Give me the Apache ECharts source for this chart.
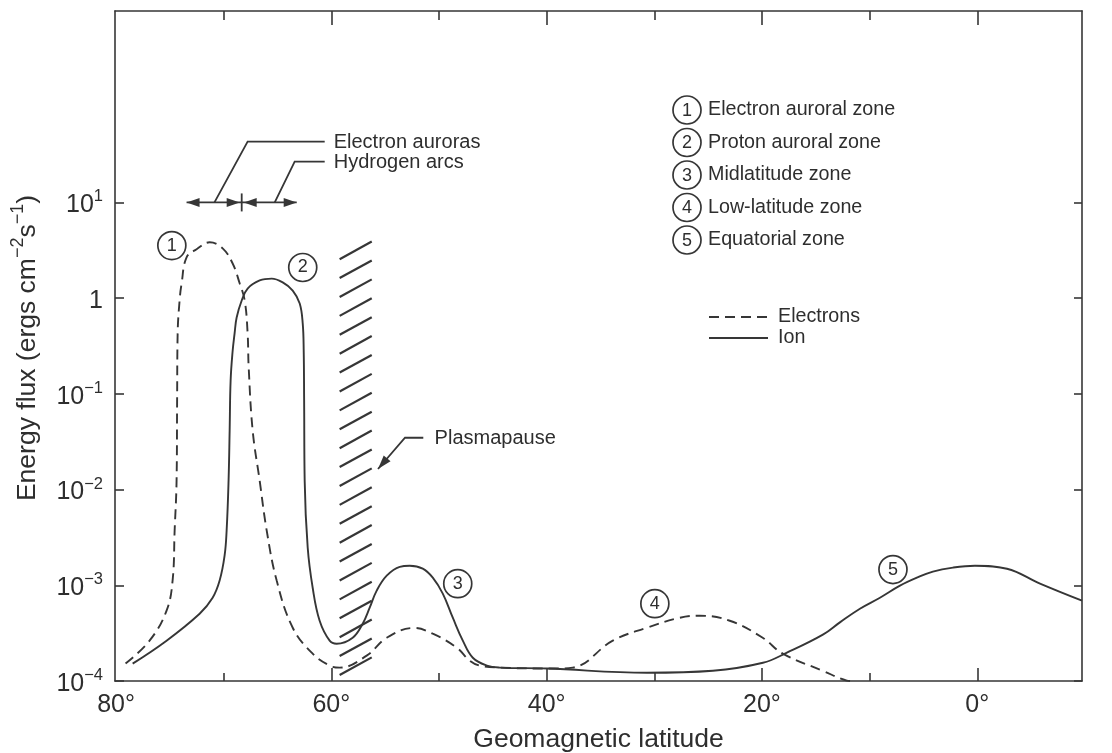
<!DOCTYPE html>
<html><head><meta charset="utf-8">
<script src="https://cdn.jsdelivr.net/npm/echarts@6/dist/echarts.min.js"></script>
<style>html,body{margin:0;padding:0;background:#fff}#c{width:1112px;height:753px}</style>
</head><body><div id="c"></div>
<script>
// ---------------- data ----------------
const electronLat  = [79.12,76.89,75.31,74.75,74.56,74.38,74.33,74.28,74.10,73.91,73.45,72.52,71.31,70.10,69.17,68.52,68.05,67.78,67.68,67.31,66.66,66.01,65.08,63.59,61.74,60.16,59.23,56.72,54.86,52.30,50.58,48.35,47.14,46.21,44.36,39.43,37.58,33.86,30.70,27.63,25.78,22.99,19.93,18.07,14.35,12.12,11.74];
const electronFlux = [1.52e-4,2.64e-4,5.43e-4,1.12e-3,3.74e-3,1.24e-2,0.085,0.428,0.944,1.43,2.67,3.24,3.83,3.31,2.30,1.43,0.944,0.428,0.188,0.0412,0.0124,3.74e-3,1.12e-3,3.6e-4,1.93e-4,1.45e-4,1.38e-4,1.84e-4,2.83e-4,3.58e-4,3.12e-4,2.23e-4,1.63e-4,1.45e-4,1.38e-4,1.35e-4,1.38e-4,2.64e-4,3.6e-4,4.58e-4,4.81e-4,4.26e-4,2.83e-4,1.93e-4,1.28e-4,1.01e-4,1.0e-4];

const ionLat  = [78.46,75.31,72.24,71.03,70.38,69.92,69.73,69.55,69.45,69.36,69.17,68.99,68.80,68.33,67.78,66.66,65.54,64.52,63.59,62.94,62.66,62.57,62.53,62.48,62.20,61.74,61.09,60.16,59.51,58.02,57.09,56.44,55.79,54.86,53.65,52.72,51.51,50.58,49.65,48.72,47.79,46.86,45.56,44.36,39.99,30.70,24.56,19.91,17.68,14.34,12.76,10.90,9.04,7.18,5.61,4.12,2.26,0.21,-2.76,-5.83,-9.73];
const ionFlux = [1.52e-4,2.64e-4,5.05e-4,7.41e-4,1.12e-3,2.04e-3,3.74e-3,0.0124,0.0412,0.137,0.282,0.428,0.627,0.944,1.26,1.53,1.60,1.46,1.20,0.877,0.542,0.282,0.0849,0.0124,2.48e-3,9.48e-4,4.26e-4,2.64e-4,2.45e-4,2.83e-4,3.97e-4,5.83e-4,8.79e-4,1.26e-3,1.56e-3,1.60e-3,1.49e-3,1.2e-3,8.17e-4,4.58e-4,2.64e-4,1.75e-4,1.45e-4,1.38e-4,1.35e-4,1.22e-4,1.28e-4,1.55e-4,1.98e-4,3.05e-4,4.1e-4,5.69e-4,7.41e-4,9.9e-4,1.2e-3,1.39e-3,1.53e-3,1.60e-3,1.49e-3,1.04e-3,6.9e-4];

const zoneNumbers = ['1','2','3','4','5'];
const zoneNames = ['Electron auroral zone','Proton auroral zone','Midlatitude zone','Low-latitude zone','Equatorial zone'];
const zoneMarkLat  = [74.82, 62.66, 48.26, 29.95, 7.83];
const zoneMarkFlux = [3.54, 2.09, 1.04e-3, 6.43e-4, 1.46e-3];

const seriesNames = ['Electrons','Ion'];
const latMajorTicks = [0,20,40,60];
const latMinorTicks = [10,30,50,70];
const latLabels = [80,60,40,20,0];
const fluxTicks = [1e-4,1e-3,1e-2,1e-1,1,10];

const annotAuroraText = ['Electron auroras','Hydrogen arcs'];
const plasmapauseText = 'Plasmapause';

// ---------------- style ----------------
const FONT = '"Liberation Sans", Arial, Helvetica, sans-serif';
const INK = '#2e2e2e';
const LINE = '#363636';

function supLabel(v){
  const e = Math.round(Math.log10(v));
  if (e === 0) return '1';
  return '10{s|' + (e < 0 ? '\u2212' + (-e) : e) + '}';
}

const xCommon = {type:'value', inverse:true, min:-9.73, max:80.1, splitLine:{show:false}};
const yCommon = {type:'log', logBase:10, min:1e-4, max:1e3, splitLine:{show:false}};

const chart = echarts.init(document.getElementById('c'), null, {renderer:'canvas'});
const option = {
  animation:false,
  backgroundColor:'#ffffff',
  textStyle:{fontFamily:FONT, color:INK},
  grid:{left:115, right:30, top:11, bottom:72, containLabel:false, outerBoundsMode:'none'},
  legend:{
    data:seriesNames, orient:'vertical', left:703, top:302,
    itemWidth:59, itemHeight:14, itemGap:1, padding:5,
    itemStyle:{opacity:0, borderWidth:0},
    textStyle:{fontFamily:FONT, fontSize:19.7, color:INK, lineHeight:19, padding:[0,0,0,5]}
  },
  xAxis:[
    Object.assign({}, xCommon, {position:'bottom',
      name:'Geomagnetic latitude', nameLocation:'middle', nameGap:45,
      nameTextStyle:{fontFamily:FONT, fontSize:26.5, color:INK},
      axisLine:{show:true, onZero:false, lineStyle:{color:LINE, width:1.6}},
      axisTick:{show:true, inside:true, length:13, customValues:latMajorTicks, lineStyle:{color:LINE, width:1.6}},
      axisLabel:{show:true, customValues:latLabels, margin:12, fontSize:25, color:INK, fontFamily:FONT, formatter:v=>v+'°'}}),
    Object.assign({}, xCommon, {position:'bottom',
      axisLine:{show:false, onZero:false},
      axisTick:{show:true, inside:true, length:8, customValues:latMinorTicks, lineStyle:{color:LINE, width:1.6}},
      axisLabel:{show:false}}),
    Object.assign({}, xCommon, {position:'top',
      axisLine:{show:true, onZero:false, lineStyle:{color:LINE, width:1.6}},
      axisTick:{show:true, inside:true, length:14, customValues:latMajorTicks, lineStyle:{color:LINE, width:1.6}},
      axisLabel:{show:false}}),
    Object.assign({}, xCommon, {position:'top',
      axisLine:{show:false, onZero:false},
      axisTick:{show:true, inside:true, length:9, customValues:latMinorTicks, lineStyle:{color:LINE, width:1.6}},
      axisLabel:{show:false}})
  ],
  yAxis:[
    Object.assign({}, yCommon, {position:'left',
      name:'Energy flux (ergs cm{s|\u22122}s{s|\u22121})', nameLocation:'middle', nameGap:68,
      nameTextStyle:{fontFamily:FONT, fontSize:26.5, color:INK, lineHeight:36, padding:[0,4,0,0],
        rich:{s:{fontFamily:FONT, fontSize:18, color:INK, verticalAlign:'top', lineHeight:18}}},
      axisLine:{show:true, onZero:false, lineStyle:{color:LINE, width:1.6}},
      axisTick:{show:true, inside:true, length:9, customValues:fluxTicks, lineStyle:{color:LINE, width:1.6}},
      axisLabel:{show:true, customValues:fluxTicks, margin:12, fontSize:25, color:INK, fontFamily:FONT, lineHeight:34,
        padding:[6,0,0,0],
        formatter:supLabel,
        rich:{s:{fontFamily:FONT, fontSize:16.5, color:INK, verticalAlign:'top', lineHeight:16}}}}),
    Object.assign({}, yCommon, {position:'right',
      axisLine:{show:true, onZero:false, lineStyle:{color:LINE, width:1.6}},
      axisTick:{show:true, inside:true, length:8, customValues:fluxTicks, lineStyle:{color:LINE, width:1.6}},
      axisLabel:{show:false}})
  ],
  series:[
    {name:seriesNames[0], type:'line', xAxisIndex:0, yAxisIndex:0, symbol:'none', smooth:0.4,
      data:electronLat.map((x,i)=>[x, electronFlux[i]]),
      lineStyle:{color:LINE, width:1.9, type:[10,6]}, itemStyle:{color:LINE}, z:2},
    {name:seriesNames[1], type:'line', xAxisIndex:0, yAxisIndex:0, symbol:'none', smooth:0.4,
      data:ionLat.map((x,i)=>[x, ionFlux[i]]),
      lineStyle:{color:LINE, width:1.9, type:'solid'}, itemStyle:{color:LINE}, z:2},
    {name:'zones', type:'scatter', xAxisIndex:0, yAxisIndex:0, symbol:'circle', symbolSize:28, z:3,
      data:zoneMarkLat.map((x,i)=>[x, zoneMarkFlux[i]]),
      itemStyle:{color:'#ffffff', borderColor:LINE, borderWidth:1.7, opacity:1},
      label:{show:true, position:'inside', fontFamily:FONT, fontSize:18, color:INK, formatter:p=>zoneNumbers[p.dataIndex]}}
  ]
};
chart.setOption(option);

// ---------------- annotations ----------------
function px(lat, flux){ return chart.convertToPixel({xAxisIndex:0, yAxisIndex:0}, [lat, flux]); }
function arrowHead(tip, from, L, W){
  const dx = tip[0]-from[0], dy = tip[1]-from[1];
  const d = Math.hypot(dx,dy) || 1;
  const ux = dx/d, uy = dy/d, nx = -uy, ny = ux;
  const bx = tip[0]-ux*L, by = tip[1]-uy*L;
  return {type:'polygon', z:100, shape:{points:[tip,[bx+nx*W,by+ny*W],[bx-nx*W,by-ny*W]]}, style:{fill:LINE}};
}
const lineStyle = {stroke:LINE, lineWidth:1.8, fill:null};
const annFont = '20px ' + FONT;
const g = [];

// electron auroras / hydrogen arcs ranges at 10^1
const aL = px(73.45, 10), aM = px(68.33, 10), aR = px(63.22, 10);
const aM1 = [aM[0]-2, aM[1]], aM2 = [aM[0]+2, aM[1]];
g.push({type:'line', z:100, shape:{x1:aL[0], y1:aL[1], x2:aR[0], y2:aR[1]}, style:lineStyle});
g.push({type:'line', z:100, shape:{x1:aM[0], y1:aM[1]-9, x2:aM[0], y2:aM[1]+9}, style:lineStyle});
g.push(arrowHead(aL, aM, 13, 4.5));
g.push(arrowHead(aM1, aL, 13, 4.5));
g.push(arrowHead(aM2, aR, 13, 4.5));
g.push(arrowHead(aR, aM, 13, 4.5));
// leaders
const l1 = [px(70.86,10), px(67.78,43.2), px(60.62,43.2)];
const l2 = [px(65.26,10), px(63.41,26.7), px(60.62,26.7)];
g.push({type:'polyline', z:100, shape:{points:l1}, style:lineStyle});
g.push({type:'polyline', z:100, shape:{points:l2}, style:lineStyle});
g.push({type:'text', z:100, style:{x:l1[2][0]+9, y:l1[2][1]+1, text:annotAuroraText[0], font:annFont, fill:INK, verticalAlign:'middle', align:'left'}});
g.push({type:'text', z:100, style:{x:l2[2][0]+9, y:l2[2][1]+1, text:annotAuroraText[1], font:annFont, fill:INK, verticalAlign:'middle', align:'left'}});

// plasmapause hatch
const hx0 = px(59.23, 1e-4)[0], hx1 = px(56.25, 1e-4)[0];
const hyBottom = px(59.23, 1e-4)[1], hyTop = px(59.23, 3.9)[1];
const hSp = 18.9, hRise = 17.6;
for (let k=0; ; k++){
  const yr = hyTop + k*hSp, yl = yr + hRise;
  if (yl > hyBottom + 1) break;
  g.push({type:'line', z:100, shape:{x1:hx0, y1:yl, x2:hx1, y2:yr}, style:{stroke:LINE, lineWidth:2.2}});
}
// plasmapause label + arrow
const p0 = px(51.46, 0.0348), p1 = px(53.16, 0.0348), p2 = px(55.67, 0.0164);
g.push({type:'polyline', z:100, shape:{points:[p0,p1,p2]}, style:lineStyle});
g.push(arrowHead(p2, p1, 14, 4.5));
g.push({type:'text', z:100, style:{x:px(50.41,0.0348)[0], y:p0[1]+1, text:plasmapauseText, font:annFont, fill:INK, verticalAlign:'middle', align:'left'}});

// zone key (top right)
zoneNames.forEach((name,i)=>{
  const cy = 110 + i*32.5;
  g.push({type:'circle', z:100, shape:{cx:687, cy:cy, r:14}, style:{fill:'#fff', stroke:LINE, lineWidth:1.7}});
  g.push({type:'text', z:101, style:{x:687, y:cy+1, text:zoneNumbers[i], font:'18px '+FONT, fill:INK, align:'center', verticalAlign:'middle'}});
  g.push({type:'text', z:101, style:{x:708, y:cy, text:name, font:'19.7px '+FONT, fill:INK, align:'left', verticalAlign:'middle'}});
});

chart.setOption({graphic:{elements:g}});
</script>
</body></html>
